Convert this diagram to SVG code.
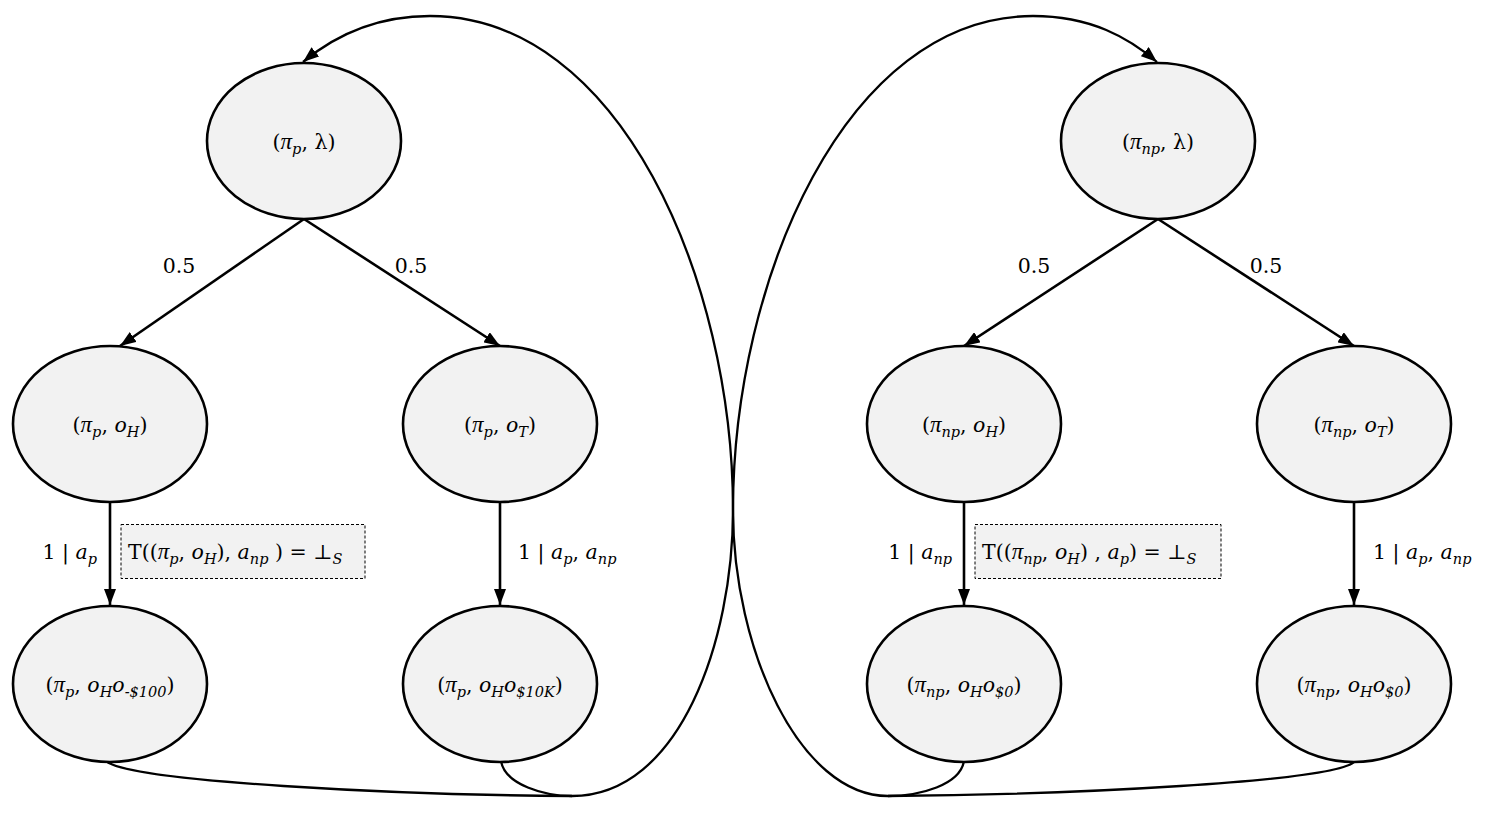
<svg xmlns="http://www.w3.org/2000/svg" width="1497" height="823" viewBox="0 0 1497 823">
<style>
.node ellipse{fill:#f2f2f2;stroke:#000;stroke-width:2.6}
text{font-family:"DejaVu Serif","Liberation Serif",serif;font-size:20.5px;fill:#000}
.i{font-style:italic}
.pi{font-style:italic;font-family:"Liberation Serif",serif;font-size:23px}
.s{font-size:14.5px;font-style:italic}
.edge{fill:none;stroke:#000;stroke-width:2.6}
.loop{fill:none;stroke:#000;stroke-width:2.3}
.box{fill:#f2f2f2;stroke:#000;stroke-width:1;stroke-dasharray:3,2}
</style>
<defs>
<marker id="ah" markerWidth="16" markerHeight="12" refX="16" refY="6" orient="auto" markerUnits="userSpaceOnUse"><path d="M0,0 L16,6 L0,12 z" fill="#000"/></marker>
</defs>
<rect width="1497" height="823" fill="#fff"/>
<g id="connectors">
<path class="edge" d="M304,219 L120,346" marker-end="url(#ah)"/>
<path class="edge" d="M304,219 L500,346" marker-end="url(#ah)"/>
<path class="edge" d="M1158,219 L964,346" marker-end="url(#ah)"/>
<path class="edge" d="M1158,219 L1354,346" marker-end="url(#ah)"/>
<path class="edge" d="M110,503 L110,605" marker-end="url(#ah)"/>
<path class="edge" d="M500,503 L500,605" marker-end="url(#ah)"/>
<path class="edge" d="M964,503 L964,605" marker-end="url(#ah)"/>
<path class="edge" d="M1354,503 L1354,605" marker-end="url(#ah)"/>
<path class="loop" d="M106,761 C130,782 400,795 572,796"/>
<path class="loop" d="M501,761 C505,785 545,796 572,796"/>
<path class="loop" d="M572,796 C680,796 733,640 733,510 C733,280 620,16 430,16 C372,16 332,38 303,62" marker-end="url(#ah)"/>
<path class="loop" d="M1355,761 C1340,782 1060,795 888,796"/>
<path class="loop" d="M964,761 C960,785 920,796 888,796"/>
<path class="loop" d="M888,796 C800,796 733,650 733,510 C733,280 846,16 1033,16 C1091,16 1129,38 1157,62" marker-end="url(#ah)"/>
<text x="179" y="273" text-anchor="middle">0.5</text>
<text x="411" y="273" text-anchor="middle">0.5</text>
<text x="1034" y="273" text-anchor="middle">0.5</text>
<text x="1266" y="273" text-anchor="middle">0.5</text>
<text x="97" y="559" text-anchor="end">1 | <tspan class="i">a</tspan><tspan class="s" dy="5">p</tspan></text>
<text x="518" y="559">1 | <tspan class="i">a</tspan><tspan class="s" dy="5">p</tspan><tspan dy="-5">, </tspan><tspan class="i">a</tspan><tspan class="s" dy="5">np</tspan></text>
<text x="952" y="559" text-anchor="end">1 | <tspan class="i">a</tspan><tspan class="s" dy="5">np</tspan></text>
<text x="1373" y="559">1 | <tspan class="i">a</tspan><tspan class="s" dy="5">p</tspan><tspan dy="-5">, </tspan><tspan class="i">a</tspan><tspan class="s" dy="5">np</tspan></text>
</g>
<g id="note-left">
<rect class="box" x="121" y="524.5" width="244" height="54"/>
<text x="128" y="559">T((<tspan class="pi">π</tspan><tspan class="s" dy="5">p</tspan><tspan dy="-5">, </tspan><tspan class="i">o</tspan><tspan class="s" dy="5">H</tspan><tspan dy="-5">), </tspan><tspan class="i">a</tspan><tspan class="s" dy="5">np</tspan><tspan dy="-5"> ) = ⊥</tspan><tspan class="s" dy="5">S</tspan></text>
</g>
<g id="note-right">
<rect class="box" x="975" y="524.5" width="246" height="54"/>
<text x="982" y="559">T((<tspan class="pi">π</tspan><tspan class="s" dy="5">np</tspan><tspan dy="-5">, </tspan><tspan class="i">o</tspan><tspan class="s" dy="5">H</tspan><tspan dy="-5">) , </tspan><tspan class="i">a</tspan><tspan class="s" dy="5">p</tspan><tspan dy="-5">) = ⊥</tspan><tspan class="s" dy="5">S</tspan></text>
</g>
<g id="n-pp-lambda" class="node"><ellipse cx="304" cy="141" rx="97" ry="78"/>
<text x="304" y="149" text-anchor="middle">(<tspan class="pi">π</tspan><tspan class="s" dy="5">p</tspan><tspan dy="-5">, λ)</tspan></text></g>
<g id="n-pp-oH" class="node"><ellipse cx="110" cy="424" rx="97" ry="78"/>
<text x="110" y="432" text-anchor="middle">(<tspan class="pi">π</tspan><tspan class="s" dy="5">p</tspan><tspan dy="-5">, </tspan><tspan class="i">o</tspan><tspan class="s" dy="5">H</tspan><tspan dy="-5">)</tspan></text></g>
<g id="n-pp-oT" class="node"><ellipse cx="500" cy="424" rx="97" ry="78"/>
<text x="500" y="432" text-anchor="middle">(<tspan class="pi">π</tspan><tspan class="s" dy="5">p</tspan><tspan dy="-5">, </tspan><tspan class="i">o</tspan><tspan class="s" dy="5">T</tspan><tspan dy="-5">)</tspan></text></g>
<g id="n-pp-oHo100" class="node"><ellipse cx="110" cy="684" rx="97" ry="78"/>
<text x="110" y="692" text-anchor="middle">(<tspan class="pi">π</tspan><tspan class="s" dy="5">p</tspan><tspan dy="-5">, </tspan><tspan class="i">o</tspan><tspan class="s" dy="5">H</tspan><tspan class="i" dy="-5">o</tspan><tspan class="s" dy="5">-$100</tspan><tspan dy="-5">)</tspan></text></g>
<g id="n-pp-oHo10K" class="node"><ellipse cx="500" cy="684" rx="97" ry="78"/>
<text x="500" y="692" text-anchor="middle">(<tspan class="pi">π</tspan><tspan class="s" dy="5">p</tspan><tspan dy="-5">, </tspan><tspan class="i">o</tspan><tspan class="s" dy="5">H</tspan><tspan class="i" dy="-5">o</tspan><tspan class="s" dy="5">$10K</tspan><tspan dy="-5">)</tspan></text></g>
<g id="n-pnp-lambda" class="node"><ellipse cx="1158" cy="141" rx="97" ry="78"/>
<text x="1158" y="149" text-anchor="middle">(<tspan class="pi">π</tspan><tspan class="s" dy="5">np</tspan><tspan dy="-5">, λ)</tspan></text></g>
<g id="n-pnp-oH" class="node"><ellipse cx="964" cy="424" rx="97" ry="78"/>
<text x="964" y="432" text-anchor="middle">(<tspan class="pi">π</tspan><tspan class="s" dy="5">np</tspan><tspan dy="-5">, </tspan><tspan class="i">o</tspan><tspan class="s" dy="5">H</tspan><tspan dy="-5">)</tspan></text></g>
<g id="n-pnp-oT" class="node"><ellipse cx="1354" cy="424" rx="97" ry="78"/>
<text x="1354" y="432" text-anchor="middle">(<tspan class="pi">π</tspan><tspan class="s" dy="5">np</tspan><tspan dy="-5">, </tspan><tspan class="i">o</tspan><tspan class="s" dy="5">T</tspan><tspan dy="-5">)</tspan></text></g>
<g id="n-pnp-oHo0-a" class="node"><ellipse cx="964" cy="684" rx="97" ry="78"/>
<text x="964" y="692" text-anchor="middle">(<tspan class="pi">π</tspan><tspan class="s" dy="5">np</tspan><tspan dy="-5">, </tspan><tspan class="i">o</tspan><tspan class="s" dy="5">H</tspan><tspan class="i" dy="-5">o</tspan><tspan class="s" dy="5">$0</tspan><tspan dy="-5">)</tspan></text></g>
<g id="n-pnp-oHo0-b" class="node"><ellipse cx="1354" cy="684" rx="97" ry="78"/>
<text x="1354" y="692" text-anchor="middle">(<tspan class="pi">π</tspan><tspan class="s" dy="5">np</tspan><tspan dy="-5">, </tspan><tspan class="i">o</tspan><tspan class="s" dy="5">H</tspan><tspan class="i" dy="-5">o</tspan><tspan class="s" dy="5">$0</tspan><tspan dy="-5">)</tspan></text></g>
</svg>
